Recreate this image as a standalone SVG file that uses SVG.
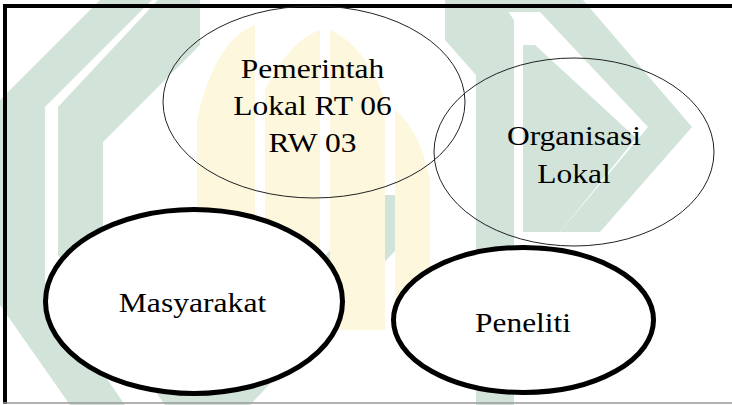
<svg xmlns="http://www.w3.org/2000/svg" width="732" height="405" viewBox="0 0 732 405">
  <style>
    .wm-g { fill: #d2e3d9; }
    .wm-y { fill: #fcf7dd; }
    .thin { fill: none; stroke: #222; stroke-width: 1; }
    .thick { fill: #fff; stroke: #000; stroke-width: 5; }
    .lbl { font-family: "Liberation Serif", "Times New Roman", serif; font-size: 28px; fill: #000; text-anchor: middle; }
  </style>
  <rect x="0" y="0" width="732" height="405" fill="#fff"/>
  <g id="watermark">
    <polygon class="wm-g" points="100,0 152,0 45,107 45,290 125,405 70,405 0,305 0,100"/>
    <polygon class="wm-g" points="158,0 200,0 200,45 103,142 103,235 200,370 200,405 165,405 58,255 58,107"/>
    <polygon class="wm-g" points="190,405 250,405 410,235 410,195 380,195"/>
    <polygon class="wm-g" points="445,0 583,0 692,127 600,232 560,232 648,127 540,12 445,12"/>
    <polygon class="wm-g" points="523,45 535,45 636,138 560,232 523,232"/>
    <polygon class="wm-g" points="445,0 500,0 514,20 514,405 476,405 476,75 445,40"/>
    <path class="wm-y" d="M197,330 L197,120 Q215,40 255,25 L255,330 Z"/>
    <path class="wm-y" d="M265,330 L265,90 Q290,40 320,30 L320,330 Z"/>
    <path class="wm-y" d="M330,330 L330,30 Q365,45 385,100 L385,330 Z"/>
    <path class="wm-y" d="M395,330 L395,110 Q420,130 430,180 L430,330 Z"/>
  </g>
  <g id="frame">
    <line x1="3" y1="6" x2="732" y2="6" stroke="#000" stroke-width="4"/>
    <line x1="5" y1="4" x2="5" y2="404" stroke="#000" stroke-width="4"/>
    <line x1="3" y1="403" x2="732" y2="403" stroke="#999" stroke-width="1.5"/>
  </g>
  <g id="connectors"></g>
  <g id="node-pemerintah">
    <ellipse class="thin" cx="314" cy="102" rx="151" ry="96"/>
    <g transform="translate(312.5 0) scale(1.125 1)">
      <text class="lbl" x="0" y="78">Pemerintah</text>
      <text class="lbl" x="0" y="115">Lokal RT 06</text>
      <text class="lbl" x="0" y="152">RW 03</text>
    </g>
  </g>
  <g id="node-organisasi">
    <ellipse class="thin" cx="574" cy="152" rx="140" ry="94"/>
    <g transform="translate(574 0) scale(1.125 1)">
      <text class="lbl" x="0" y="145">Organisasi</text>
      <text class="lbl" x="0" y="183">Lokal</text>
    </g>
  </g>
  <g id="node-masyarakat">
    <ellipse class="thick" cx="194" cy="301.5" rx="148.5" ry="92"/>
    <g transform="translate(192.5 0) scale(1.13 1)">
      <text class="lbl" x="0" y="312">Masyarakat</text>
    </g>
  </g>
  <g id="node-peneliti">
    <ellipse class="thick" cx="523.5" cy="320" rx="130" ry="72.5"/>
    <g transform="translate(523 0) scale(1.12 1)">
      <text class="lbl" x="0" y="332">Peneliti</text>
    </g>
  </g>
</svg>
